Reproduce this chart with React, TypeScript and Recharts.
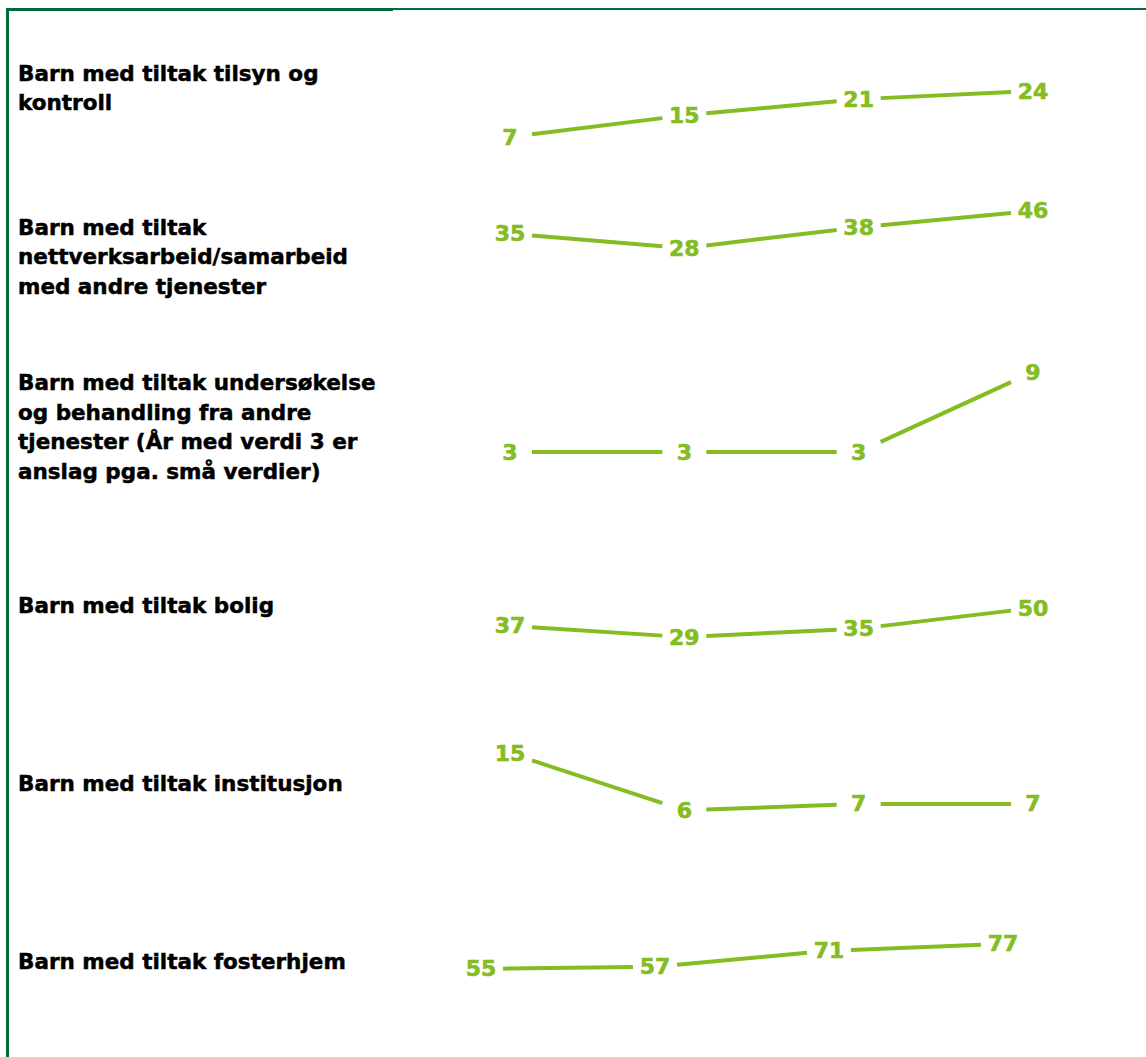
import React from 'react';
import { LineChart, Line, XAxis, YAxis, LabelList } from 'recharts';

// ---- data ----
const periods = ['P1', 'P2', 'P3', 'P4'];

const categoryLines: string[][] = [
  ['Barn med tiltak tilsyn og', 'kontroll'],
  ['Barn med tiltak', 'nettverksarbeid/samarbeid', 'med andre tjenester'],
  ['Barn med tiltak undersøkelse', 'og behandling fra andre', 'tjenester (År med verdi 3 er', 'anslag pga. små verdier)'],
  ['Barn med tiltak bolig'],
  ['Barn med tiltak institusjon'],
  ['Barn med tiltak fosterhjem'],
];

const tilsyn = [7, 15, 21, 24];
const nettverk = [35, 28, 38, 46];
const undersokelse = [3, 3, 3, 9];
const bolig = [37, 29, 35, 50];
const institusjon = [15, 6, 7, 7];
const fosterhjem = [55, 57, 71, 77];

const seriesValues = [tilsyn, nettverk, undersokelse, bolig, institusjon, fosterhjem];

// ---- layout / style ----
const W = 1146;
const H = 1057;
const ROW_H = 175;
const LINE_GREEN = '#84bc22';
const BORDER_GREEN = '#006a39';
const FONT = '"DejaVu Sans", Verdana, sans-serif';
const GAP = 22;

// per-row y domains (each row is independently scaled)
const rowDomains: [number, number][] = [
  [-7.0, 57.6],
  [-21.6, 63.5],
  [-2.47, 10.65],
  [-16.6, 110.1],
  [-4.2, 23.4],
  [-16.3, 137.7],
];
const rowXMargins: [number, number][] = [
  [510, 113],
  [510, 113],
  [510, 113],
  [510, 113],
  [510, 113],
  [481, 143],
];
const textCenters = [88, 257, 427, 606, 784, 962];
const LINE_HEIGHT = 29.5;

// custom d3 curve: straight segments with gaps around each point (room for labels)
const gapCurve = (context: any) => {
  let prev: [number, number] | null = null;
  return {
    areaStart() {},
    areaEnd() {},
    lineStart() {
      prev = null;
    },
    lineEnd() {},
    point(x: number, y: number) {
      x = +x;
      y = +y;
      if (prev) {
        const dx = x - prev[0];
        const dy = y - prev[1];
        const t = dx !== 0 ? Math.min(GAP / Math.abs(dx), 0.45) : 0;
        context.moveTo(prev[0] + dx * t, prev[1] + dy * t);
        context.lineTo(x - dx * t, y - dy * t);
      }
      prev = [x, y];
    },
  };
};

const ValueLabel = (props: any) => {
  const { x, y, value } = props;
  return (
    <text
      x={x}
      y={y}
      textAnchor="middle"
      dominantBaseline="central"
      fill={LINE_GREEN}
      stroke={LINE_GREEN}
      strokeWidth={0.6}
      fontFamily={FONT}
      fontWeight="bold"
      fontSize={22}
    >
      {value}
    </text>
  );
};

export default function App() {
  return (
    <div
      style={{
        position: 'absolute',
        left: 0,
        top: 0,
        width: W,
        height: H,
        background: '#fff',
        overflow: 'hidden',
      }}
    >
      {/* borders */}
      <div style={{ position: 'absolute', left: 6, top: 8, width: 3, height: H - 8, background: BORDER_GREEN }} />
      <div style={{ position: 'absolute', left: 6, top: 8, width: 387, height: 3, background: BORDER_GREEN }} />
      <div style={{ position: 'absolute', left: 393, top: 8, width: W - 393, height: 2, background: BORDER_GREEN }} />

      {seriesValues.map((vals, r) => {
        const data = periods.map((p, i) => ({ period: p, value: vals[i] }));
        const lines = categoryLines[r];
        const blockTop = textCenters[r] - (lines.length * LINE_HEIGHT) / 2;
        return (
          <React.Fragment key={r}>
            <div
              style={{
                position: 'absolute',
                left: 18,
                top: blockTop,
                fontFamily: FONT,
                fontWeight: 'bold',
                fontSize: 21.5,
                lineHeight: `${LINE_HEIGHT}px`,
                color: '#000',
                WebkitTextStroke: '0.5px #000',
                whiteSpace: 'nowrap',
              }}
            >
              {lines.map((l, i) => (
                <div key={i}>{l}</div>
              ))}
            </div>
            <div style={{ position: 'absolute', left: 0, top: r * ROW_H, width: W, height: ROW_H }}>
              <LineChart
                width={W}
                height={ROW_H}
                data={data}
                margin={{ top: 0, bottom: 0, left: rowXMargins[r][0], right: rowXMargins[r][1] }}
              >
                <XAxis dataKey="period" hide />
                <YAxis hide domain={rowDomains[r]} allowDataOverflow />
                <Line
                  dataKey="value"
                  type={gapCurve as any}
                  stroke={LINE_GREEN}
                  strokeWidth={4}
                  dot={false}
                  activeDot={false}
                  isAnimationActive={false}
                >
                  <LabelList dataKey="value" content={<ValueLabel />} />
                </Line>
              </LineChart>
            </div>
          </React.Fragment>
        );
      })}
    </div>
  );
}
